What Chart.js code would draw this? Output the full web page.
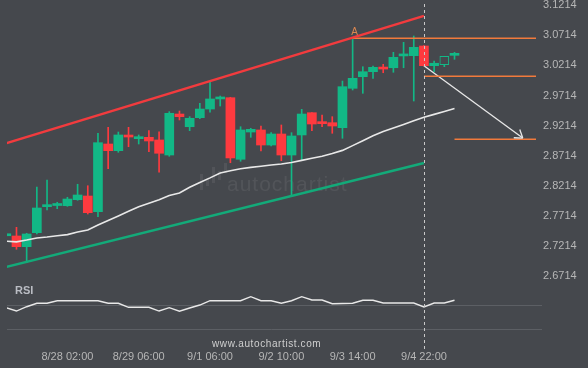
<!DOCTYPE html>
<html>
<head>
<meta charset="utf-8">
<script src="https://cdn.jsdelivr.net/npm/chart.js@4.4.1/dist/chart.umd.min.js"></script>
<style>
  html, body { margin: 0; padding: 0; background: #45484d; }
  canvas { display: block; }
</style>
</head>
<body>
<canvas id="chart-candles" width="588" height="368"></canvas>
<script>
// 4h candles, index 0..44
const opens  = [2.7368, 2.7364, 2.7186, 2.7419, 2.7851, 2.7870, 2.7867, 2.7967, 2.8028, 2.7768,
                2.8892, 2.8781, 2.9022, 2.8980, 2.9003, 2.8959, 2.8709, 2.9390, 2.9179, 2.9329,
                2.9473, 2.9640, 2.9661, 2.8638, 2.9091, 2.9125, 2.8875, 2.9058, 2.8709, 2.9042,
                2.9412, 2.9242, 2.9246, 2.9163, 2.9817, 3.0010, 3.0093, 3.0150, 3.0159, 3.0355,
                3.0359, 3.0520, 3.0193, 3.0209, 3.0365];
const highs  = [2.7385, 2.7508, 2.7409, 2.8178, 2.8294, 2.7924, 2.8007, 2.8223, 2.8199, 2.9070,
                2.9169, 2.9091, 2.9169, 2.9042, 2.9113, 2.9096, 2.9429, 2.9440, 2.9346, 2.9568,
                2.9917, 2.9689, 2.9668, 2.9179, 2.9153, 2.9191, 2.9080, 2.9208, 2.9080, 2.9468,
                2.9415, 2.9374, 2.9346, 2.9938, 3.0648, 3.0176, 3.0188, 3.0216, 3.0415, 3.0581,
                3.0686, 3.0525, 3.0271, 3.0349, 3.0415];
const lows   = [2.7360, 2.7143, 2.6920, 2.7397, 2.7796, 2.7817, 2.7857, 2.7957, 2.7729, 2.7684,
                2.8482, 2.8754, 2.8847, 2.8892, 2.8764, 2.8422, 2.8688, 2.9291, 2.9113, 2.9312,
                2.9419, 2.9523, 2.8581, 2.8605, 2.9003, 2.8776, 2.8859, 2.8615, 2.8028, 2.8626,
                2.9113, 2.9179, 2.9070, 2.8987, 2.9789, 2.9734, 2.9983, 3.0076, 3.0083, 3.0159,
                2.9606, 3.0190, 3.0093, 3.0176, 3.0299];
const closes = [2.7378, 2.7186, 2.7397, 2.7829, 2.7862, 2.7878, 2.7978, 2.8045, 2.7751, 2.8914,
                2.8781, 2.9042, 2.9008, 2.8992, 2.8942, 2.8738, 2.9402, 2.9346, 2.9319, 2.9473,
                2.9640, 2.9668, 2.8660, 2.9125, 2.9136, 2.8875, 2.9058, 2.8709, 2.9025, 2.9390,
                2.9224, 2.9230, 2.9191, 2.9844, 2.9983, 3.0093, 3.0166, 3.0137, 3.0332, 3.0365,
                3.0498, 3.0193, 3.0233, 3.0349, 3.0375];
const maValues = [2.7276, 2.7267, 2.7297, 2.7331, 2.7347, 2.7367, 2.7387, 2.7429, 2.7463, 2.7547,
                  2.7621, 2.7696, 2.7774, 2.7850, 2.7907, 2.7965, 2.8037, 2.8078, 2.8173, 2.8254,
                  2.8329, 2.8410, 2.8447, 2.8480, 2.8503, 2.8522, 2.8542, 2.8561, 2.8586, 2.8620,
                  2.8654, 2.8688, 2.8733, 2.8786, 2.8865, 2.8947, 2.9028, 2.9098, 2.9156, 2.9216,
                  2.9277, 2.9337, 2.9384, 2.9432, 2.9480];
const rsiValues = [58.6, 55.8, 59.4, 62.3, 62.3, 64.4, 64.4, 64.4, 64.4, 64.4,
                   62.3, 62.3, 58.9, 58.9, 58.9, 55.8, 58.6, 55.6, 58.3, 60.8,
                   64.4, 64.4, 64.4, 64.4, 67.8, 64.4, 64.4, 62.3, 64.4, 67.8,
                   65.0, 65.0, 61.9, 62.1, 62.3, 64.8, 64.8, 62.5, 62.5, 62.5,
                   62.5, 59.2, 62.5, 62.5, 64.8];

const priceTicks = [2.6714, 2.7214, 2.7714, 2.8214, 2.8714, 2.9214, 2.9714, 3.0214, 3.0714, 3.1214];
const rsiTicks = [40, 60];
const timeTickIndex = [6, 13, 20, 27, 34, 41];
const timeTickLabels = ['8/28 02:00', '8/29 06:00', '9/1 06:00', '9/2 10:00', '9/3 14:00', '9/4 22:00'];

// pattern: ascending channel + levels
const channelIndex = [0, 41];
const channelUpper = [2.8905, 3.1021];
const channelLower = [2.6850, 2.8576];
const peakIndex = 34;          // "A"
const resistanceLevel = 3.0648;
const breakIndex = 41;         // dashed line
const supportLevel = 3.0016;
const targetLevel = 2.8970;
const forecastIndex = [41, 50.7];
const forecastValues = [3.0192, 2.8991];
const hollowIndex = 43;

const COLORS = {
  bg: '#45484d',
  up: '#12b886',
  down: '#fe3a3f',
  upperLine: '#f23b3e',
  lowerLine: '#13aa79',
  orange: '#f27a3c',
  white: '#e8e8e8',
  text: '#b6b6b6',
  grid: '#5c5f64',
};

const X_MIN = 0.07, X_MAX = 52;
const idx = opens.map((_, i) => i);
const candleColor = i => (closes[i] >= opens[i] ? COLORS.up : COLORS.down);
const seg = (xs, ys) => xs.map((x, k) => ({ x, y: ys[k] }));

Chart.defaults.font.family = '"Liberation Sans", Arial, sans-serif';

const overlay = {
  id: 'overlay',
  beforeDraw(chart) {
    const { ctx } = chart;
    ctx.save();
    ctx.fillStyle = COLORS.bg;
    ctx.fillRect(0, 0, chart.width, chart.height);
    ctx.restore();
  },
  beforeDatasetsDraw(chart) {
    const { ctx, chartArea } = chart;
    ctx.save();
    // watermark
    ctx.fillStyle = 'rgba(255,255,255,0.07)';
    const bx = chartArea.left + 193;
    [[0, 174, 190], [6, 179, 186], [12, 167, 183], [18, 171, 180], [24, 163, 173]].forEach(([dx, t, b]) => {
      ctx.fillRect(bx + dx, t, 3, b - t);
    });
    ctx.font = '21px "Liberation Sans", Arial, sans-serif';
    ctx.letterSpacing = '1px';
    ctx.textBaseline = 'alphabetic';
    ctx.fillText('autochartist', chartArea.left + 220, 191);
    ctx.restore();
  },
  afterDatasetsDraw(chart) {
    const { ctx, chartArea, scales } = chart;
    const x = scales.x, y = scales.y;
    ctx.save();
    // dashed vertical line at the breakout candle
    const dx = Math.round(x.getPixelForValue(breakIndex)) + 0.5;
    ctx.strokeStyle = '#c9c9c9';
    ctx.lineWidth = 1;
    ctx.setLineDash([3, 3]);
    ctx.beginPath();
    ctx.moveTo(dx, chartArea.top + 4);
    ctx.lineTo(dx, chartArea.bottom);
    ctx.stroke();
    ctx.setLineDash([]);

    // arrow head
    const x1 = x.getPixelForValue(forecastIndex[0]), y1 = y.getPixelForValue(forecastValues[0]);
    const x2 = x.getPixelForValue(forecastIndex[1]), y2 = y.getPixelForValue(forecastValues[1]);
    const a = Math.atan2(y2 - y1, x2 - x1);
    ctx.strokeStyle = COLORS.white;
    ctx.lineWidth = 1.3;
    ctx.beginPath();
    [Math.PI - 0.6, Math.PI + 0.6].forEach(o => {
      ctx.moveTo(x2, y2);
      ctx.lineTo(x2 + 9 * Math.cos(a + o), y2 + 9 * Math.sin(a + o));
    });
    ctx.stroke();

    // "A" marker
    ctx.fillStyle = '#dd8750';
    ctx.font = '10px "Liberation Sans", Arial, sans-serif';
    ctx.textAlign = 'center';
    ctx.textBaseline = 'bottom';
    ctx.fillText('A', x.getPixelForValue(peakIndex) + 2, y.getPixelForValue(highs[peakIndex]) - 1);

    // RSI title
    ctx.fillStyle = '#babdc4';
    ctx.font = 'bold 11px "Liberation Sans", Arial, sans-serif';
    ctx.textAlign = 'left';
    ctx.textBaseline = 'middle';
    ctx.fillText('RSI', chartArea.left + 8, 291);

    // site link
    ctx.fillStyle = '#cfcfcf';
    ctx.font = '10px "Liberation Sans", Arial, sans-serif';
    ctx.letterSpacing = '0.6px';
    ctx.fillText('www.autochartist.com', chartArea.left + 205, 344);
    ctx.restore();
  },
};

const lineBase = { type: 'line', pointRadius: 0, fill: false, tension: 0, order: 0, xAxisID: 'x', yAxisID: 'y' };

new Chart(document.getElementById('chart-candles'), {
  type: 'bar',
  plugins: [overlay],
  data: {
    datasets: [
      { ...lineBase, data: seg(channelIndex, channelUpper), borderColor: COLORS.upperLine, borderWidth: 2.5 },
      { ...lineBase, data: seg(channelIndex, channelLower), borderColor: COLORS.lowerLine, borderWidth: 2.5 },
      { ...lineBase, data: seg(idx, maValues), borderColor: COLORS.white, borderWidth: 1.6 },
      { ...lineBase, data: seg(idx, rsiValues), yAxisID: 'rsi', borderColor: COLORS.white, borderWidth: 1.4 },
      { ...lineBase, data: seg([peakIndex, X_MAX], [resistanceLevel, resistanceLevel]), borderColor: COLORS.orange, borderWidth: 1.5 },
      { ...lineBase, data: seg([breakIndex, X_MAX], [supportLevel, supportLevel]), borderColor: COLORS.orange, borderWidth: 1.5 },
      { ...lineBase, data: seg([idx.length - 1, X_MAX], [targetLevel, targetLevel]), borderColor: COLORS.orange, borderWidth: 1.5 },
      { ...lineBase, data: seg(forecastIndex, forecastValues), borderColor: COLORS.white, borderWidth: 1.3 },
      {
        // candle bodies
        xAxisID: 'x',
        yAxisID: 'y',
        data: idx.map(i => ({ x: i, y: [opens[i], closes[i]] })),
        backgroundColor: c => (c.dataIndex === hollowIndex ? COLORS.bg : candleColor(c.dataIndex)),
        borderColor: c => candleColor(c.dataIndex),
        borderWidth: c => (c.dataIndex === hollowIndex ? 1 : 0),
        borderSkipped: false,
        barThickness: 9,
        minBarLength: 2,
        grouped: false,
        order: 1,
      },
      {
        // wicks
        xAxisID: 'x',
        yAxisID: 'y',
        data: idx.map(i => ({ x: i, y: [lows[i], highs[i]] })),
        backgroundColor: c => candleColor(c.dataIndex),
        borderWidth: 0,
        barThickness: 1,
        grouped: false,
        order: 2,
      },
    ],
  },
  options: {
    responsive: false,
    animation: false,
    events: [],
    layout: { padding: { left: 7, top: 0, right: 0, bottom: 0 } },
    plugins: { legend: { display: false }, tooltip: { enabled: false } },
    scales: {
      x: {
        type: 'linear',
        min: X_MIN,
        max: X_MAX,
        offset: false,
        grid: { display: false, drawTicks: false },
        border: { display: false },
        afterBuildTicks: s => { s.ticks = timeTickIndex.map(v => ({ value: v })); },
        afterFit: s => { s.height = 18; s.paddingLeft = 0; s.paddingRight = 0; },
        ticks: {
          autoSkip: false,
          maxRotation: 0,
          padding: 0,
          color: COLORS.text,
          font: { size: 11 },
          callback: v => timeTickLabels[timeTickIndex.indexOf(v)],
        },
      },
      y: {
        type: 'linear',
        position: 'right',
        weight: 1,
        min: 2.5470,
        max: 3.1284,
        beginAtZero: false,
        grid: { display: false, drawTicks: false },
        border: { display: false },
        afterBuildTicks: s => { s.ticks = priceTicks.map(v => ({ value: v })); },
        afterFit: s => { s.width = 52; s.paddingTop = 0; s.paddingBottom = 0; },
        ticks: { padding: 7, labelOffset: 1, autoSkip: false, color: COLORS.text, font: { size: 11 }, callback: v => v.toFixed(4) },
      },
      rsi: {
        type: 'linear',
        position: 'right',
        weight: 0,
        min: 23.33,
        max: 315,
        grid: { color: COLORS.grid, drawTicks: true, tickLength: 6, lineWidth: 1 },
        border: { display: false },
        afterBuildTicks: s => { s.ticks = rsiTicks.map(v => ({ value: v })); },
        afterFit: s => { s.width = 0; s.paddingTop = 0; s.paddingBottom = 0; },
        ticks: { padding: 1, color: COLORS.text, font: { size: 11 }, callback: v => String(v) },
      },
    },
  },
});
</script>
</body>
</html>
